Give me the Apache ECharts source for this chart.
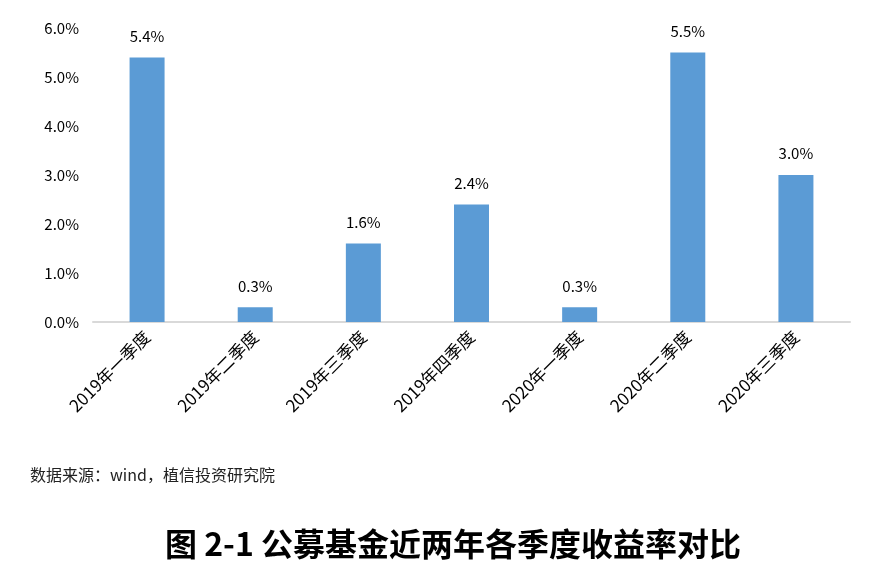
<!DOCTYPE html>
<html><head><meta charset="utf-8">
<script src="https://cdn.jsdelivr.net/npm/echarts@6/dist/echarts.min.js"></script>
<style>html,body{margin:0;padding:0;background:#fff}#c{width:880px;height:570px}</style>
</head><body><div id="c"></div>
<script>
const categories = ['2019年一季度','2019年二季度','2019年三季度','2019年四季度','2020年一季度','2020年二季度','2020年三季度'];
const values = [5.4, 0.3, 1.6, 2.4, 0.3, 5.5, 3.0];
const yTicks = [0, 1, 2, 3, 4, 5, 6];
const sourceText = '数据来源：wind，植信投资研究院';
const titleText = '图 2-1 公募基金近两年各季度收益率对比';

const chart = echarts.init(document.getElementById('c'), null, {renderer: 'canvas'});
const font = '"Noto Sans CJK SC", "Noto Sans", sans-serif';
chart.setOption({
  animation: false,
  grid: {left: 93, right: 30, top: 28, bottom: 248},
  xAxis: {
    type: 'category', data: categories,
    axisLine: {lineStyle: {color: '#d9d9d9', width: 2}},
    axisTick: {show: false},
    axisLabel: {rotate: 45, color: '#000', fontSize: 17, fontFamily: font, margin: 12, interval: 0}
  },
  yAxis: {
    type: 'value', min: yTicks[0], max: yTicks[yTicks.length-1], interval: 1,
    axisLine: {show: false}, axisTick: {show: false}, splitLine: {show: false},
    axisLabel: {color: '#000', fontSize: 15, fontFamily: font, margin: 14,
      formatter: v => v.toFixed(1) + '%'}
  },
  series: [{
    type: 'bar', data: values, barWidth: 35,
    itemStyle: {color: '#5b9bd5'},
    label: {show: true, position: 'top', distance: 14, color: '#000', fontSize: 15, fontFamily: font,
      formatter: p => p.value.toFixed(1) + '%'}
  }],
  graphic: [
    {type: 'text', left: 30, top: 467, style: {text: sourceText, fill: '#222', fontSize: 16, fontFamily: font}},
    {type: 'text', x: 453, y: 544, style: {text: titleText, fill: '#000', fontSize: 32, fontWeight: 'bold', fontFamily: font, textAlign: 'center', textVerticalAlign: 'middle'}}
  ]
});
</script></body></html>
